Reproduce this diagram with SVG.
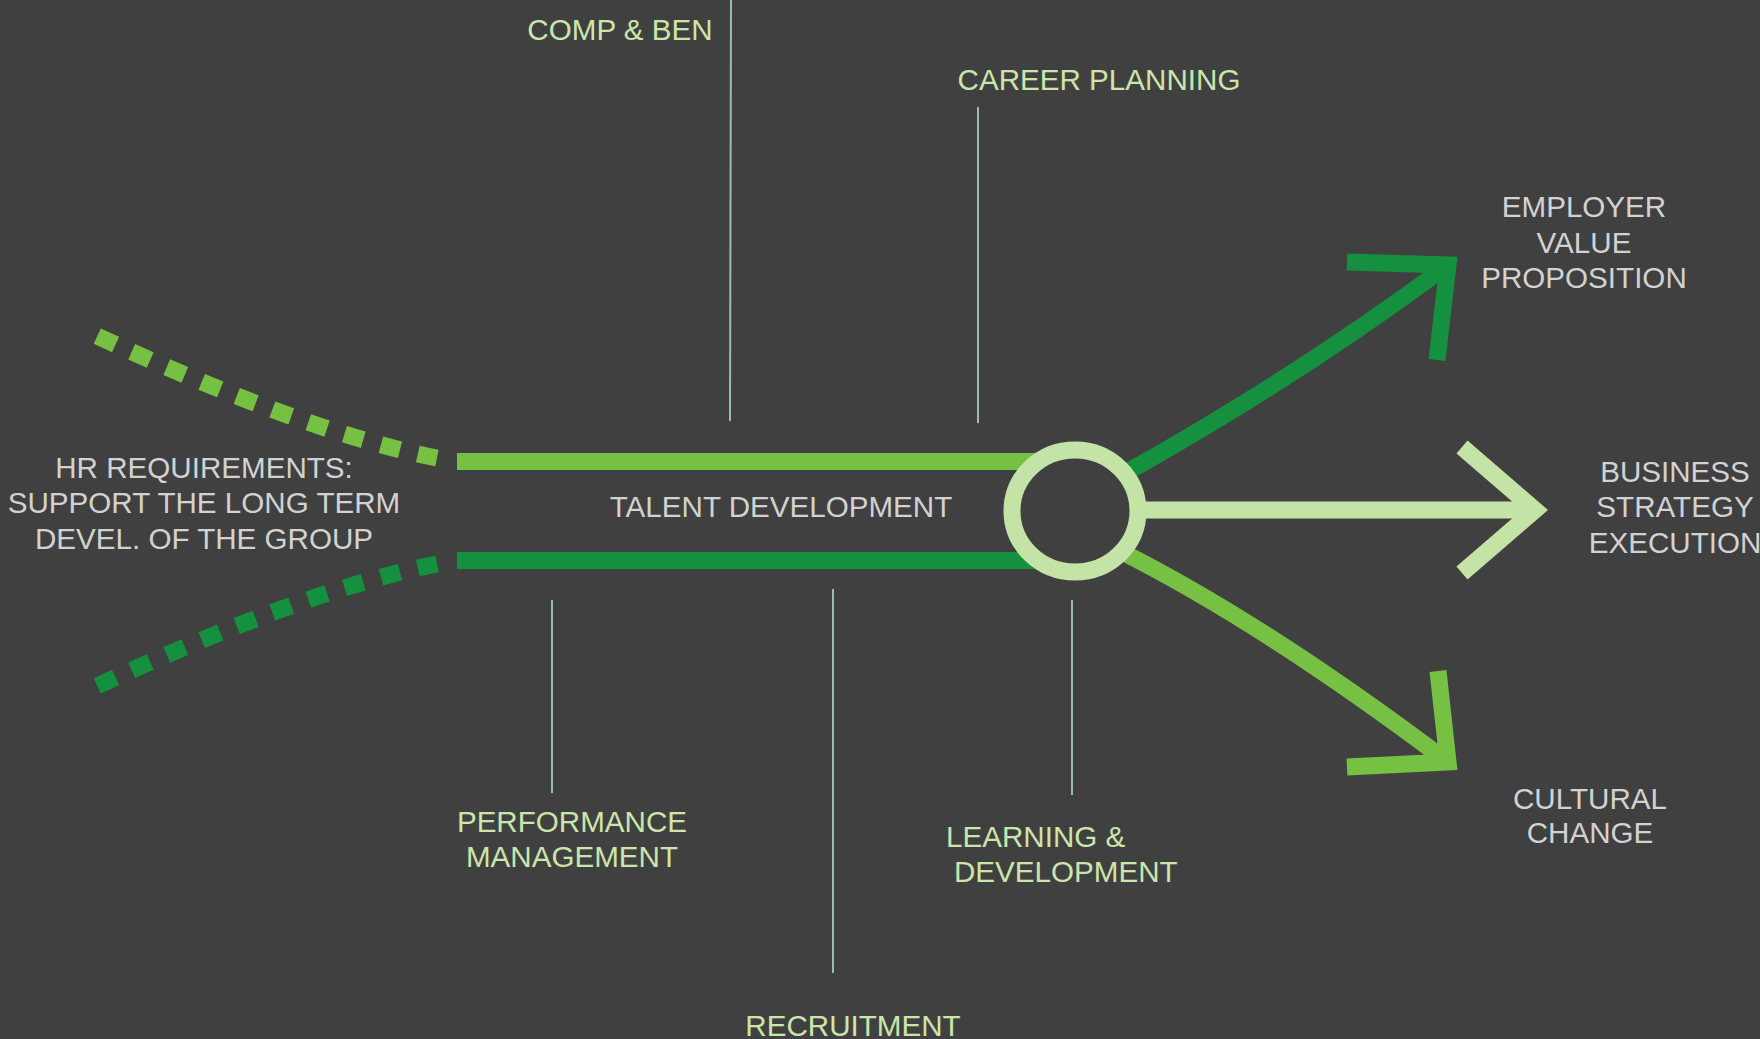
<svg xmlns="http://www.w3.org/2000/svg" width="1760" height="1039" viewBox="0 0 1760 1039">
<style>
text{font-family:"Liberation Sans",Arial,sans-serif;font-size:29.6px;text-anchor:middle}
.g{fill:#d2d2d2}
.lg{fill:#cbe5ab}
.tick{stroke:#98bdb5;stroke-width:2;fill:none}
.lt{stroke:#76c143;fill:none}
.dk{stroke:#15903e;fill:none}
.pl{stroke:#c4e3a6;fill:none}
.w{stroke-width:17;stroke-linejoin:miter;stroke-miterlimit:10}
</style>
<rect width="1760" height="1039" fill="#404040"/>
<g id="connectors">
<path class="lt w" d="M437 458 Q300 431 82 329" stroke-dasharray="20 18"/>
<path class="dk w" d="M437 564 Q300 591 82 693" stroke-dasharray="20 18"/>
<line class="lt w" x1="457" y1="461.5" x2="1040" y2="461.5"/>
<line class="dk w" x1="457" y1="560.5" x2="1040" y2="560.5"/>
<path class="dk w" d="M1120 476 Q1293 380 1448 265"/>
<polyline class="dk w" points="1347,262 1448,265 1437,360"/>
<path class="lt w" d="M1118 550 Q1262 622 1448 762"/>
<polyline class="lt w" points="1347,767 1448,762 1438,671"/>
<line class="pl w" x1="1130" y1="510" x2="1535" y2="510"/>
<polyline class="pl w" points="1462,447 1535,510 1462,573"/>
<line class="tick" x1="731" y1="0" x2="730" y2="421"/>
<line class="tick" x1="978" y1="107" x2="978" y2="423"/>
<line class="tick" x1="552" y1="600" x2="552" y2="793"/>
<line class="tick" x1="833" y1="589" x2="833" y2="973"/>
<line class="tick" x1="1072" y1="600" x2="1072" y2="795"/>
</g>
<g id="hub">
<ellipse cx="1075" cy="511" rx="63" ry="61" fill="none" stroke="#c4e3a6" stroke-width="17"/>
</g>
<g id="hr-requirements">
<text class="g" x="204" y="478">HR REQUIREMENTS:</text>
<text class="g" x="204" y="513">SUPPORT THE LONG TERM</text>
<text class="g" x="204" y="549">DEVEL. OF THE GROUP</text>
</g>
<g id="talent-development"><text class="g" x="781" y="517">TALENT DEVELOPMENT</text></g>
<g id="comp-ben"><text class="lg" x="620" y="40">COMP &amp; BEN</text></g>
<g id="career-planning"><text class="lg" x="1099" y="90">CAREER PLANNING</text></g>
<g id="performance-management">
<text class="lg" x="572" y="832">PERFORMANCE</text>
<text class="lg" x="572" y="867">MANAGEMENT</text>
</g>
<g id="recruitment"><text class="lg" x="853" y="1036">RECRUITMENT</text></g>
<g id="learning-development">
<text class="lg" x="946" y="847" style="text-anchor:start">LEARNING &amp;</text>
<text class="lg" x="954" y="882" style="text-anchor:start">DEVELOPMENT</text>
</g>
<g id="employer-value-proposition">
<text class="g" x="1584" y="217">EMPLOYER</text>
<text class="g" x="1584" y="253">VALUE</text>
<text class="g" x="1584" y="288">PROPOSITION</text>
</g>
<g id="business-strategy-execution">
<text class="g" x="1675" y="482">BUSINESS</text>
<text class="g" x="1675" y="517">STRATEGY</text>
<text class="g" x="1675" y="553">EXECUTION</text>
</g>
<g id="cultural-change">
<text class="g" x="1590" y="809">CULTURAL</text>
<text class="g" x="1590" y="843">CHANGE</text>
</g>
</svg>
